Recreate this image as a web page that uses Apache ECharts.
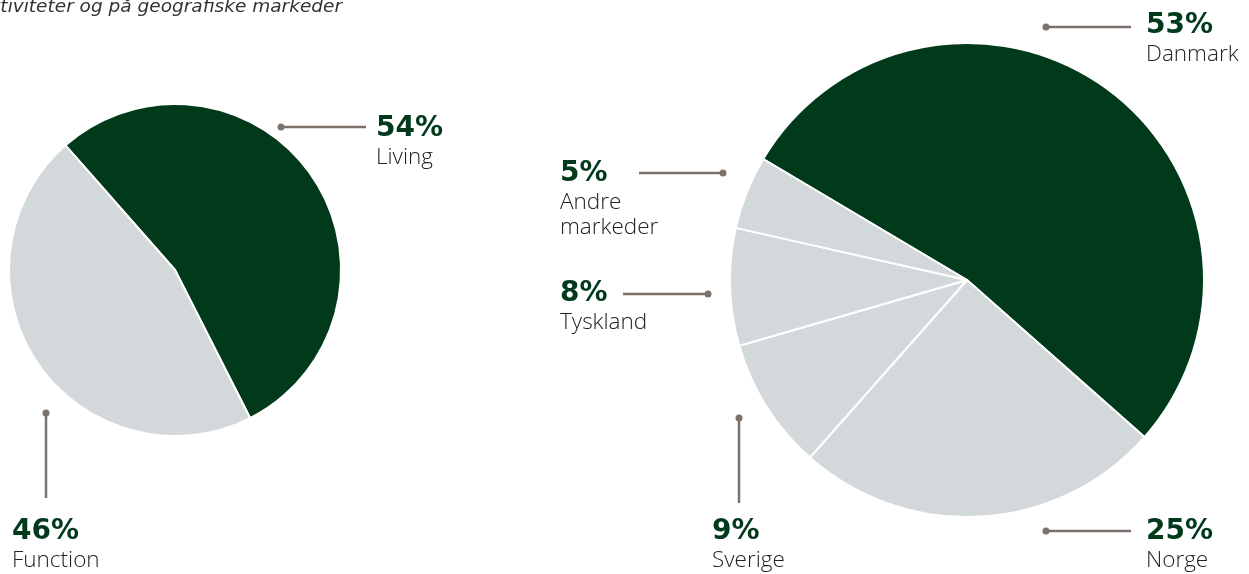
<!DOCTYPE html>
<html>
<head>
<meta charset="utf-8">
<script src="https://cdn.jsdelivr.net/npm/echarts@6/dist/echarts.min.js"></script>
<style>
  html, body { margin: 0; padding: 0; background: #fff; }
  #chart { width: 1249px; height: 574px; }
</style>
</head>
<body>
<div id="chart"></div>
<script>
// data
const activityNames = ['Living', 'Function'];
const activityValues = [54, 46];
const marketNames = ['Danmark', 'Norge', 'Sverige', 'Tyskland', 'Andre markeder'];
const marketValues = [53, 25, 9, 8, 5];

const GREEN = '#013a1b';
const GREY = '#d3d8da';
const LINE = '#7b726c';
const PCT_FONT = 'bold 28px "DejaVu Sans", Lato, sans-serif';
const NAME_FONT = '300 22.5px "Open Sans", Lato, sans-serif';

// annotation layout: text anchor (x, y of percent), leader line from p1 to dot p2
const activityLayout = [
  { x: 377, y: 129, line: [366, 127, 281, 127] },
  { x: 13, y: 532, line: [46, 498, 46, 413] }
];
const marketLayout = [
  { x: 1147, y: 26, line: [1131, 27, 1046, 27] },
  { x: 1147, y: 532, line: [1131, 531, 1046, 531] },
  { x: 713, y: 532, line: [739, 503, 739, 418] },
  { x: 561, y: 294, line: [623, 294, 708, 294] },
  { x: 561, y: 174, line: [639, 173, 723, 173] }
];

function annotations (names, values, layout) {
  let out = [];
  for (let i = 0; i < names.length; i++) {
    let l = layout[i];
    let ln = l.line;
    out.push({
      type: 'line',
      shape: { x1: ln[0], y1: ln[1], x2: ln[2], y2: ln[3] },
      style: { stroke: LINE, lineWidth: 2.5 }
    });
    out.push({
      type: 'circle',
      shape: { cx: ln[2], cy: ln[3], r: 3.5 },
      style: { fill: LINE }
    });
    out.push({
      type: 'text',
      x: l.x - 1, y: l.y,
      style: {
        text: values[i] + '%',
        fill: GREEN,
        font: PCT_FONT,
        verticalAlign: 'middle'
      }
    });
    let parts = names[i].split(' ');
    for (let j = 0; j < parts.length; j++) {
      out.push({
        type: 'text',
        x: l.x - 1, y: l.y + 29 + j * 25,
        style: {
          text: parts[j],
          fill: '#222',
          font: NAME_FONT,
          verticalAlign: 'middle'
        }
      });
    }
  }
  return out;
}

function pieData (names, values) {
  return names.map(function (n, i) {
    return { name: n, value: values[i], itemStyle: { color: i === 0 ? GREEN : GREY } };
  });
}

let chart = echarts.init(document.getElementById('chart'));
let option = {
  animation: false,
  series: [
    {
      type: 'pie',
      center: [175, 270],
      radius: 166,
      startAngle: 131.3,
      label: { show: false },
      labelLine: { show: false },
      itemStyle: { borderColor: '#fff', borderWidth: 2 },
      data: pieData(activityNames, activityValues)
    },
    {
      type: 'pie',
      center: [967, 280],
      radius: 237,
      startAngle: 149.3,
      label: { show: false },
      labelLine: { show: false },
      itemStyle: { borderColor: '#fff', borderWidth: 2 },
      data: pieData(marketNames, marketValues)
    }
  ],
  graphic: [
    {
      type: 'text',
      x: 342, y: 7,
      style: {
        text: 'Omsætning fordelt på forretningsaktiviteter og på geografiske markeder',
        fill: '#333',
        font: 'italic 18.5px "DejaVu Sans", Lato, sans-serif',
        align: 'right',
        verticalAlign: 'middle'
      }
    }
  ].concat(annotations(activityNames, activityValues, activityLayout))
   .concat(annotations(marketNames, marketValues, marketLayout))
};
chart.setOption(option);
</script>
</body>
</html>
